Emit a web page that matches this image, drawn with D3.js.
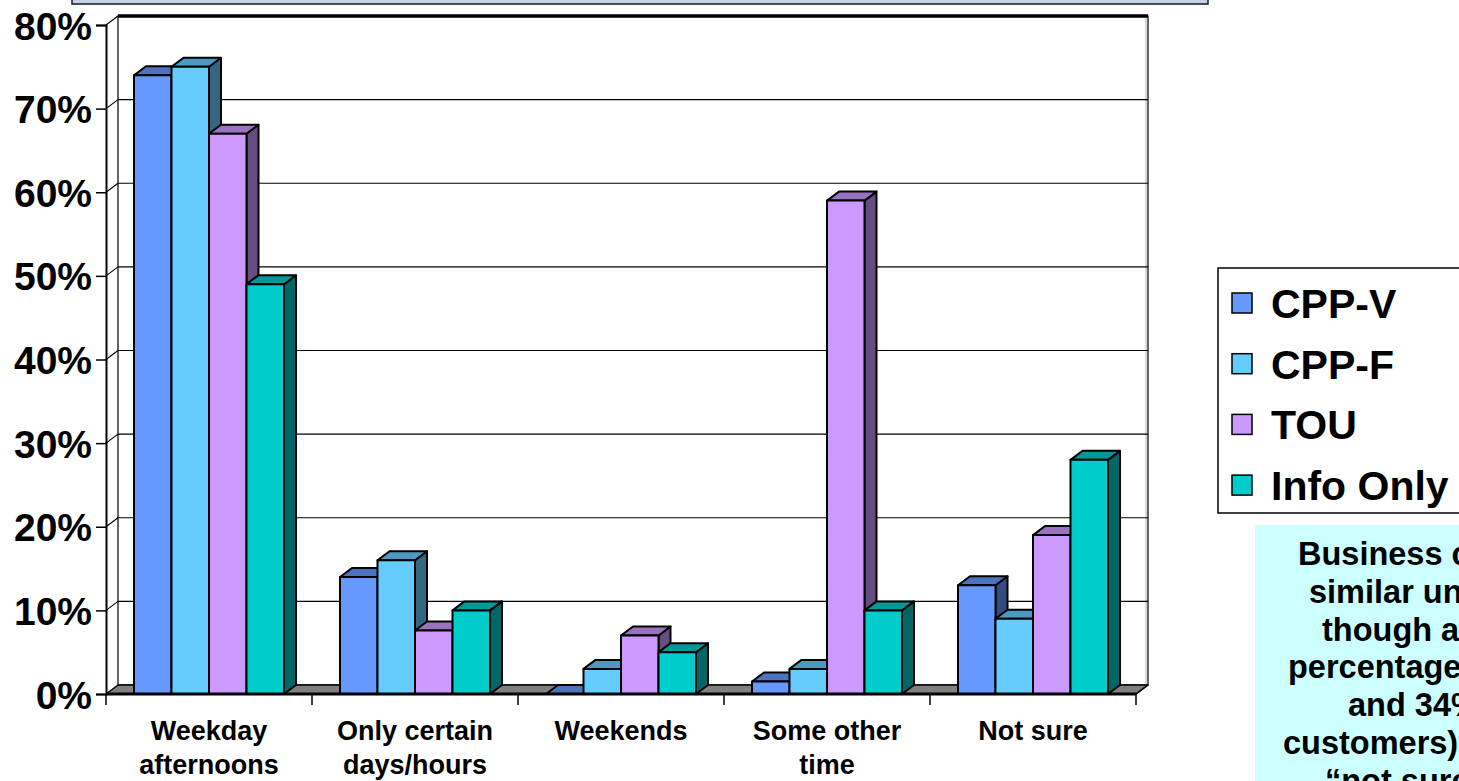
<!DOCTYPE html>
<html>
<head>
<meta charset="utf-8">
<script src="https://cdn.jsdelivr.net/npm/d3@7"></script>
<style>
  html, body { margin: 0; padding: 0; background: #fff; overflow: hidden; }
  svg { display: block; font-family: "Liberation Sans", Arial, sans-serif; font-weight: bold; }
</style>
</head>
<body>
<svg id="chart" width="1459" height="781"></svg>
<script>
// ---- data ----
const categories = ["Weekday afternoons", "Only certain days/hours", "Weekends", "Some other time", "Not sure"];
const categoryLines = [["Weekday", "afternoons"], ["Only certain", "days/hours"], ["Weekends"], ["Some other", "time"], ["Not sure"]];
const seriesNames = ["CPP-V", "CPP-F", "TOU", "Info Only"];
const cppV     = [74, 14, 0, 1.5, 13];
const cppF     = [75, 16, 3, 3, 9];
const tou      = [67, 7.6, 7, 59, 19];
const infoOnly = [49, 10, 5, 10, 28];
const yTicks = [0, 10, 20, 30, 40, 50, 60, 70, 80];
const seriesColors = ["#6699FF", "#66CCFF", "#CC99FF", "#00CCCC"];
const noteLines = [
  "Business customers have",
  "similar understanding,",
  "though an even greater",
  "percentage (19% of TOU",
  "and 34% of Info Only",
  "customers) said they were",
  "\u201Cnot sure.\u201D"
];

const seriesValues = [cppV, cppF, tou, infoOnly];

// ---- layout ----
const svg = d3.select("#chart");
const DX = 12, DY = 9;              // 3-D depth offset
const x = d3.scaleBand(categories, [106, 1136]);
const inner = d3.scaleBand(seriesNames, [28, 178]);
const y = d3.scaleLinear([0, 80], [694, 25]);
const shade = (c, k) => { const r = d3.rgb(c); return d3.rgb(r.r * k, r.g * k, r.b * k).formatHex(); };

// title box remnant at the very top
svg.append("rect").attr("x", 72).attr("y", -12).attr("width", 1136).attr("height", 16)
  .attr("fill", "#c3d3e3").attr("stroke", "#1a1a1a").attr("stroke-width", 1.5);

const x0 = x.range()[0], x1 = x.range()[1];
const yb0 = y(0), ytop = y(80);

// back wall
svg.append("rect").attr("x", x0 + DX).attr("y", ytop - DY)
  .attr("width", x1 - x0).attr("height", yb0 - ytop)
  .attr("fill", "#fff").attr("stroke", "#000").attr("stroke-width", 1.2);
svg.append("line").attr("x1", x0 + DX).attr("x2", x1 + DX)
  .attr("y1", ytop - DY).attr("y2", ytop - DY)
  .attr("stroke", "#000").attr("stroke-width", 3.5);
svg.append("line").attr("x1", x1 + DX - 2).attr("x2", x1 + DX - 2)
  .attr("y1", ytop - DY + 2).attr("y2", yb0 - DY)
  .attr("stroke", "#b0b0b0").attr("stroke-width", 1);

// gridlines on back wall and side wall
const grid = svg.append("g");
yTicks.filter(t => t > 0 && t < 80).forEach(t => {
  grid.append("line").attr("x1", x0 + DX).attr("x2", x1 + DX)
    .attr("y1", y(t) - DY).attr("y2", y(t) - DY)
    .attr("stroke", "#000").attr("stroke-width", 1.2);
});
yTicks.filter(t => t > 0).forEach(t => {
  grid.append("line").attr("x1", x0).attr("x2", x0 + DX)
    .attr("y1", y(t)).attr("y2", y(t) - DY)
    .attr("stroke", "#000").attr("stroke-width", 1.2);
});

// floor
svg.append("path")
  .attr("d", `M${x0},${yb0}L${x1},${yb0}L${x1 + DX},${yb0 - DY}L${x0 + DX},${yb0 - DY}Z`)
  .attr("fill", "#808080").attr("stroke", "#000").attr("stroke-width", 1.5)
  .attr("stroke-linejoin", "round");

// bars
const bars = svg.append("g");
categories.forEach((cat, ci) => {
  seriesNames.forEach((s, si) => {
    const v = seriesValues[si][ci];
    const bx = x(cat) + inner(s);
    const w = inner.bandwidth();
    const yt = y(v);
    const col = seriesColors[si];
    const g = bars.append("g").attr("stroke", "#000").attr("stroke-width", 2).attr("stroke-linejoin", "round");
    // side face
    g.append("path")
      .attr("d", `M${bx + w},${yt}L${bx + w + DX},${yt - DY}L${bx + w + DX},${yb0 - DY}L${bx + w},${yb0}Z`)
      .attr("fill", shade(col, 0.5));
    // top face
    g.append("path")
      .attr("d", `M${bx},${yt}L${bx + DX},${yt - DY}L${bx + w + DX},${yt - DY}L${bx + w},${yt}Z`)
      .attr("fill", shade(col, 0.75));
    // front face
    if (v > 0) {
      g.append("rect").attr("x", bx).attr("y", yt).attr("width", w).attr("height", yb0 - yt)
        .attr("fill", col);
    }
  });
});

// front axes
svg.append("line").attr("x1", x0).attr("x2", x1).attr("y1", yb0).attr("y2", yb0)
  .attr("stroke", "#000").attr("stroke-width", 3);
svg.append("line").attr("x1", x1).attr("x2", x1 + DX).attr("y1", yb0).attr("y2", yb0 - DY)
  .attr("stroke", "#000").attr("stroke-width", 1.5);

const yAxis = d3.axisLeft(y).tickValues(yTicks).tickSize(10).tickPadding(4)
  .tickFormat(d => d + "%");
const yg = svg.append("g").attr("transform", `translate(${x0},0)`).call(yAxis);
yg.select(".domain").attr("stroke", "#000").attr("stroke-width", 2);
yg.selectAll(".tick line").attr("stroke", "#000").attr("stroke-width", 1.5);
yg.selectAll(".tick text").attr("fill", "#000").attr("font-size", 39)
  .attr("font-family", "Liberation Sans, Arial, sans-serif").attr("font-weight", "bold")
  .attr("dy", "0.36em");

// category ticks and labels
const xg = svg.append("g");
const bounds = categories.map(c => x(c)).concat([x1]);
bounds.forEach(bx => {
  xg.append("line").attr("x1", bx).attr("x2", bx).attr("y1", yb0).attr("y2", yb0 + 11)
    .attr("stroke", "#000").attr("stroke-width", 1.5);
});
categories.forEach((cat, ci) => {
  const t = xg.append("text").attr("text-anchor", "middle").attr("font-size", 27)
    .attr("x", x(cat) + x.bandwidth() / 2).attr("y", 740).attr("fill", "#000");
  categoryLines[ci].forEach((ln, li) => {
    t.append("tspan").attr("x", x(cat) + x.bandwidth() / 2).attr("dy", li === 0 ? 0 : 34).text(ln);
  });
});

// legend
const lg = svg.append("g").attr("transform", "translate(1218,268)");
lg.append("rect").attr("width", 320).attr("height", 245)
  .attr("fill", "#fff").attr("stroke", "#000").attr("stroke-width", 1.5);
seriesNames.forEach((s, i) => {
  const cy = 35 + i * 60.7;
  lg.append("rect").attr("x", 14).attr("y", cy - 10).attr("width", 20).attr("height", 20)
    .attr("fill", seriesColors[i]).attr("stroke", "#000").attr("stroke-width", 1.5);
  lg.append("text").attr("x", 53).attr("y", cy + 15).attr("font-size", 41).attr("fill", "#000").text(s);
});

// note box
const nb = svg.append("g").attr("transform", "translate(1255,525)");
nb.append("rect").attr("width", 320).attr("height", 300).attr("fill", "#CCFFFF");
const noteStarts = [43, 54, 67, 33, 93, 28, 70];
noteLines.forEach((ln, i) => {
  nb.append("text").attr("x", noteStarts[i]).attr("y", 40 + i * 37.8)
    .attr("font-size", 32.5).attr("fill", "#000").text(ln);
});
</script>
</body>
</html>
